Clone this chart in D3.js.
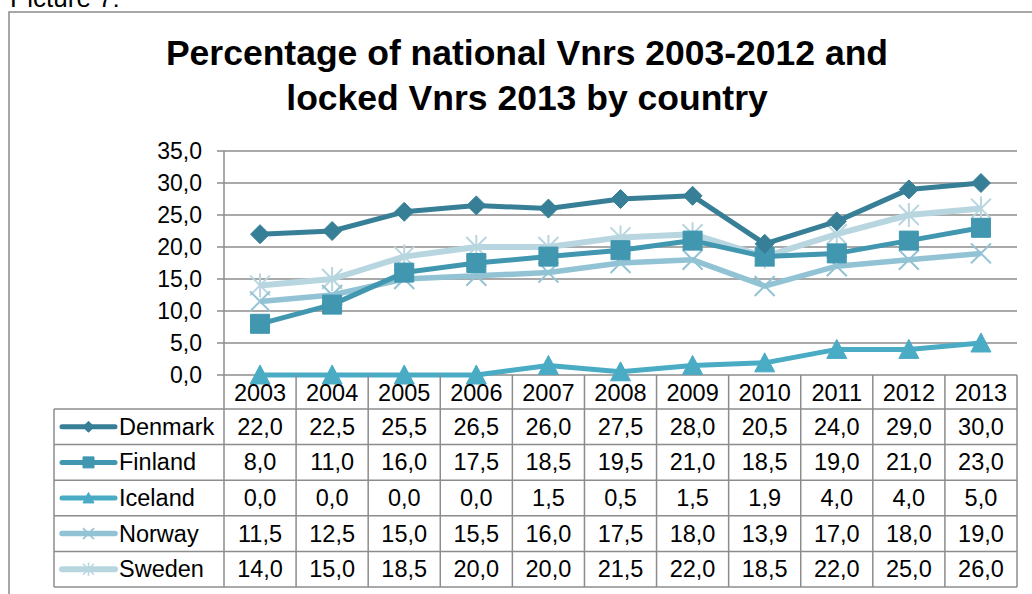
<!DOCTYPE html>
<html><head><meta charset="utf-8">
<script src="https://cdn.jsdelivr.net/npm/d3@7"></script>
<style>html,body{margin:0;padding:0;background:#fff;overflow:hidden}svg{display:block;font-family:"Liberation Sans",Arial,sans-serif}</style>
</head><body>
<script>
const years = ["2003","2004","2005","2006","2007","2008","2009","2010","2011","2012","2013"];
const countries = ["Denmark","Finland","Iceland","Norway","Sweden"];
const denmark = [22.0,22.5,25.5,26.5,26.0,27.5,28.0,20.5,24.0,29.0,30.0];
const finland = [8.0,11.0,16.0,17.5,18.5,19.5,21.0,18.5,19.0,21.0,23.0];
const iceland = [0.0,0.0,0.0,0.0,1.5,0.5,1.5,1.9,4.0,4.0,5.0];
const norway = [11.5,12.5,15.0,15.5,16.0,17.5,18.0,13.9,17.0,18.0,19.0];
const sweden = [14.0,15.0,18.5,20.0,20.0,21.5,22.0,18.5,22.0,25.0,26.0];
const yTicks = [0,5,10,15,20,25,30,35];
const titleLines = ["Percentage of national Vnrs 2003-2012 and","locked Vnrs 2013 by country"];

const seriesValues = [denmark, finland, iceland, norway, sweden];
const colors = ["#377f96","#4196b0","#4aabc5","#92c3d4","#b8d6e0"];
const markers = ["diamond","square","triangle","x","star"];
const widths = [5,5,5,5.5,6];

(function(){
const W=1032,H=594;
const svg=d3.select("body").append("svg").attr("width",W).attr("height",H);

svg.append("text").attr("x",10).attr("y",7).attr("font-size",26).attr("fill","#000").text("Picture 7:");
svg.append("rect").attr("x",9).attr("y",12).attr("width",1040).attr("height",600)
  .attr("fill","#fff").attr("stroke","#8a8a8a").attr("stroke-width",1.5);

svg.append("g").selectAll("text").data(titleLines).join("text")
  .attr("x",527).attr("y",(d,i)=>65+i*45).attr("text-anchor","middle")
  .attr("font-size",35.5).attr("font-weight","bold").attr("fill","#000").text(d=>d);

const pL=224,pR=1017,pT=151,pB=375;
const x=d3.scaleBand().domain(years).range([pL,pR]).padding(0);
const y=d3.scaleLinear().domain([0,35]).range([pB,pT]);
const cx=d=>x(d)+x.bandwidth()/2;

svg.append("g").selectAll("line").data(yTicks).join("line")
  .attr("x1",pL-7).attr("x2",pR).attr("y1",d=>y(d)).attr("y2",d=>y(d))
  .attr("stroke","#8c8c8c").attr("stroke-width",1.5);
svg.append("line").attr("x1",pL).attr("x2",pL).attr("y1",pT).attr("y2",pB)
  .attr("stroke","#8c8c8c").attr("stroke-width",1.5);
svg.append("g").selectAll("text").data(yTicks).join("text")
  .attr("x",202).attr("y",d=>y(d)+8).attr("text-anchor","end").attr("font-size",23)
  .attr("fill","#000").text(d=>d3.format(".1f")(d).replace(".",","));

function markerPath(type,s){
  const h=s/2;
  switch(type){
    case "diamond": return `M0,${-h}L${h},0L0,${h}L${-h},0Z`;
    case "square": return `M${-h},${-h}H${h}V${h}H${-h}Z`;
    case "triangle": return `M0,${-h}L${h},${h*0.9}L${-h},${h*0.9}Z`;
    case "x": return `M${-h},${-h}L${h},${h}M${h},${-h}L${-h},${h}`;
    case "star": return `M${-h},${-h}L${h},${h}M${h},${-h}L${-h},${h}M0,${-h*1.2}V${h*1.2}`;
  }
}
const sizes=[19,19,20,20,20];
const line=d3.line().x((d,i)=>cx(years[i])).y(d=>y(d));
const plot=svg.append("g");
[4,3,2,1,0].forEach(k=>{
  const g=plot.append("g");
  g.append("path").datum(seriesValues[k]).attr("d",line).attr("fill","none")
    .attr("stroke",colors[k]).attr("stroke-width",widths[k]).attr("stroke-linejoin","round");
  const open = markers[k]==="x"||markers[k]==="star";
  g.selectAll("path.m").data(seriesValues[k]).join("path").attr("class","m")
    .attr("transform",(d,i)=>`translate(${cx(years[i])},${y(d)})`)
    .attr("d",markerPath(markers[k],sizes[k]))
    .attr("fill",open?"none":colors[k]).attr("stroke",colors[k]).attr("stroke-width",open?2:1);
});

const tLeft=54, rowTop=409, rowH=35.6;
const tg=svg.append("g");
tg.selectAll("text.yr").data(years).join("text").attr("class","yr")
  .attr("x",d=>cx(d)).attr("y",401).attr("text-anchor","middle").attr("font-size",23.5).attr("fill","#000").text(d=>d);
const vx=years.map(d=>x(d)).concat([pR]);
tg.selectAll("line.v").data(vx).join("line").attr("class","v")
  .attr("x1",d=>d).attr("x2",d=>d).attr("y1",pB).attr("y2",rowTop+rowH*5)
  .attr("stroke","#8c8c8c").attr("stroke-width",1.5);
tg.append("line").attr("x1",tLeft).attr("x2",tLeft).attr("y1",rowTop).attr("y2",rowTop+rowH*5)
  .attr("stroke","#8c8c8c").attr("stroke-width",1.5);
tg.selectAll("line.h").data(d3.range(6)).join("line").attr("class","h")
  .attr("x1",tLeft).attr("x2",pR).attr("y1",d=>rowTop+d*rowH).attr("y2",d=>rowTop+d*rowH)
  .attr("stroke","#8c8c8c").attr("stroke-width",1.5);

countries.forEach((c,k)=>{
  const cy=rowTop+rowH*k+rowH/2;
  const row=tg.append("g");
  row.append("line").attr("x1",62).attr("x2",115).attr("y1",cy).attr("y2",cy)
    .attr("stroke",colors[k]).attr("stroke-width",widths[k]).attr("stroke-linecap","round");
  const open = markers[k]==="x"||markers[k]==="star";
  row.append("path").attr("transform",`translate(88.5,${cy})`).attr("d",markerPath(markers[k],11))
    .attr("fill",open?"none":colors[k]).attr("stroke",colors[k]).attr("stroke-width",open?1.5:1);
  row.append("text").attr("x",119).attr("y",cy+8).attr("font-size",23.5).attr("fill","#000").text(c);
  row.selectAll("text.v").data(seriesValues[k]).join("text").attr("class","v")
    .attr("x",(d,i)=>cx(years[i])).attr("y",cy+8).attr("text-anchor","middle").attr("font-size",23.5)
    .attr("fill","#000").text(d=>d3.format(".1f")(d).replace(".",","));
});
})();
</script>
</body></html>
